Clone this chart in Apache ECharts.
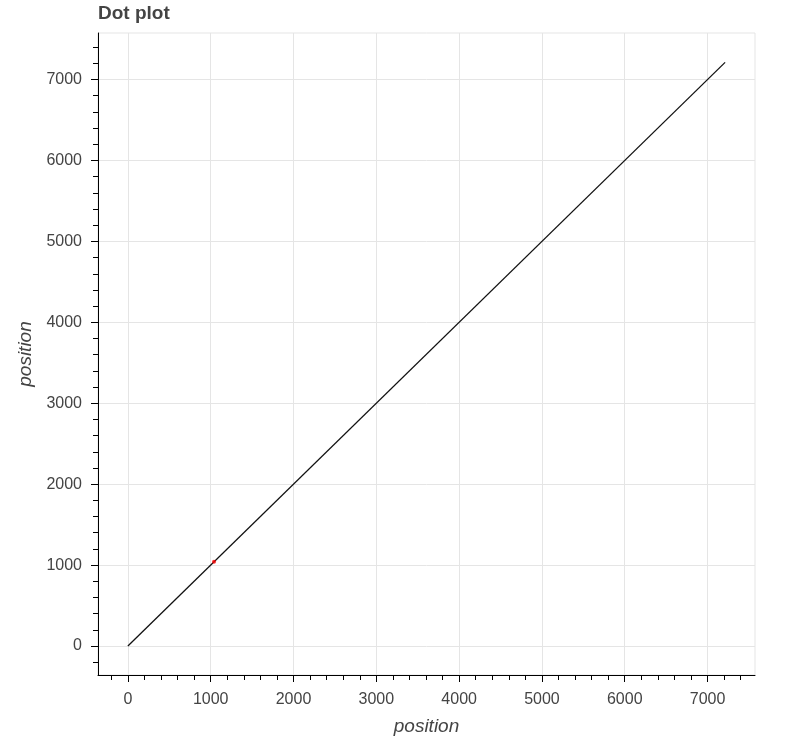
<!DOCTYPE html>
<html>
<head>
<meta charset="utf-8">
<script src="https://cdn.jsdelivr.net/npm/echarts@6/dist/echarts.min.js"></script>
<style>html,body{margin:0;padding:0;background:#fff}#c{width:787px;height:746px}</style>
</head>
<body>
<div id="c"></div>
<script>
// Data
var lineX = [0, 7212];
var lineY = [0, 7212];
var dotX = [1040];
var dotY = [1040];
var xTicks = [0, 1000, 2000, 3000, 4000, 5000, 6000, 7000];
var yTicks = [0, 1000, 2000, 3000, 4000, 5000, 6000, 7000];
var xRange = [-361, 7573];
var yRange = [-358, 7575];

var font = "'Liberation Sans', Arial, Helvetica, sans-serif";
var chart = echarts.init(document.getElementById('c'), null, {renderer: 'canvas'});

function axisCommon(ticks) {
  return {
    type: 'value',
    splitNumber: 8,
    axisLine: {show: true, onZero: false, lineStyle: {color: '#000', width: 1}},
    axisTick: {show: true, inside: false, length: 7, customValues: ticks, lineStyle: {color: '#000', width: 1}},
    minorTick: {show: true, splitNumber: 5, length: 5, lineStyle: {color: '#000', width: 1}},
    axisLabel: {customValues: ticks, color: '#444', fontSize: 16, fontFamily: font,
      formatter: function (v) { return String(v); }},
    splitLine: {show: true, lineStyle: {color: '#e5e5e5', width: 1}},
    minorSplitLine: {show: false},
    nameLocation: 'middle',
    nameTextStyle: {color: '#444', fontSize: 19, fontStyle: 'italic', fontFamily: font}
  };
}

var xa = axisCommon(xTicks);
xa.min = xRange[0]; xa.max = xRange[1];
xa.name = 'position'; xa.nameGap = 42;
xa.axisLabel.margin = 17;
var ya = axisCommon(yTicks);
ya.min = yRange[0]; ya.max = yRange[1];
ya.name = 'position'; ya.nameGap = 62;
ya.axisLabel.margin = 16;

chart.setOption({
  animation: false,
  title: {text: 'Dot plot', left: 98, top: 4, padding: 0,
    textStyle: {color: '#444', fontSize: 19, fontWeight: 'bold', fontFamily: font}},
  grid: {left: 98, right: 32, top: 33, bottom: 71, show: true, borderColor: '#e5e5e5', borderWidth: 1, containLabel: false},
  xAxis: xa,
  yAxis: ya,
  series: [
    {type: 'line', data: lineX.map(function (v, i) { return [v, lineY[i]]; }),
     showSymbol: false, lineStyle: {color: '#111', width: 1.3}, z: 2},
    {type: 'scatter', data: dotX.map(function (v, i) { return [v, dotY[i]]; }),
     symbolSize: 4, itemStyle: {color: '#ff0000'}, z: 3}
  ]
});
</script>
</body>
</html>
